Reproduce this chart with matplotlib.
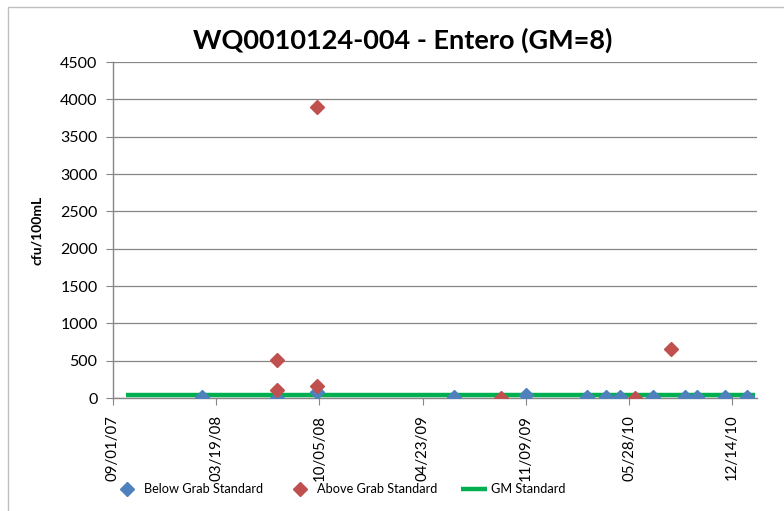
import matplotlib
matplotlib.use('Agg')
import matplotlib.pyplot as plt
import matplotlib.dates as mdates
from datetime import date, timedelta

plt.rcParams['font.family'] = ['Lato', 'DejaVu Sans']

# Samples below the single-sample (grab) standard
below_dates = ["2008-02-20", "2008-07-15", "2008-09-30", "2009-06-23", "2009-11-09",
               "2010-03-08", "2010-04-13", "2010-05-11", "2010-07-14", "2010-09-14",
               "2010-10-07", "2010-11-30", "2011-01-12"]
below_vals = [10, 5, 80, 10, 40, 15, 15, 15, 20, 15, 20, 10, 10]

# Samples above the grab standard
above_dates = ["2008-07-15", "2008-07-15", "2008-09-30", "2008-09-30",
               "2009-09-22", "2010-06-09", "2010-08-17"]
above_vals = [510, 110, 160, 3900, 5, 5, 655]

# Geometric mean standard line
gm_dates = ["2007-09-27", "2011-01-27"]
gm_vals = [35, 35]

x_start = date(2007, 9, 1)
x_end = date(2011, 1, 31)
tick_step_days = 200

to_d = lambda s: date.fromisoformat(s)

fig = plt.figure(figsize=(7.84, 5.11), dpi=100)
ax = fig.add_axes([0.144, 0.221, 0.8216, 0.6576])

# chart frame
fig.add_artist(plt.Rectangle((8 / 784, -0.05), 1.2, 1 - 7 / 511 + 0.05,
                             transform=fig.transFigure, fill=False,
                             edgecolor='#bfbfbf', linewidth=1.0))

ax.plot([to_d(d) for d in gm_dates], gm_vals, color='#00B050', linewidth=3.2,
        label='GM Standard', zorder=2, solid_capstyle='butt')
ax.plot([to_d(d) for d in below_dates], below_vals, linestyle='none', marker='D',
        markersize=7.5, color='#4F81BD', label='Below Grab Standard', zorder=3)
ax.plot([to_d(d) for d in above_dates], above_vals, linestyle='none', marker='D',
        markersize=7.5, color='#C0504D', label='Above Grab Standard', zorder=4)

ax.set_xlim(x_start, x_end)
ax.set_ylim(0, 4500)
ax.set_yticks(range(0, 4501, 500))
ticks = [x_start + timedelta(days=tick_step_days * i) for i in range(7)]
ax.set_xticks(ticks)
ax.xaxis.set_major_formatter(mdates.DateFormatter('%m/%d/%y'))
plt.setp(ax.get_xticklabels(), rotation=90)

ax.grid(axis='y', color='#868686', linewidth=0.9)
ax.set_axisbelow(True)
for s in ['top', 'right']:
    ax.spines[s].set_visible(False)
for s in ['left', 'bottom']:
    ax.spines[s].set_color('#868686')
    ax.spines[s].set_linewidth(1.0)
ax.tick_params(axis='both', colors='#868686', length=5, labelcolor='black')
ax.tick_params(axis='x', pad=7, labelsize=10.8)
ax.tick_params(axis='y', pad=6, labelsize=11.5)

ax.set_ylabel('cfu/100mL', fontsize=10, fontweight='bold', labelpad=12)

fig.text(403 / 784, 1 - 40 / 511, 'WQ0010124-004 - Entero (GM=8)',
         ha='center', va='center', fontsize=19.5, fontweight='bold')

handles, labels = ax.get_legend_handles_labels()
order = [1, 2, 0]
fig.legend([handles[i] for i in order], [labels[i] for i in order],
           loc='center', bbox_to_anchor=(340 / 784, 1 - 489 / 511), ncol=3,
           frameon=False, fontsize=9.2, handlelength=2.0, columnspacing=1.9,
           handletextpad=0.3)

fig.savefig('out.png', dpi=100)
